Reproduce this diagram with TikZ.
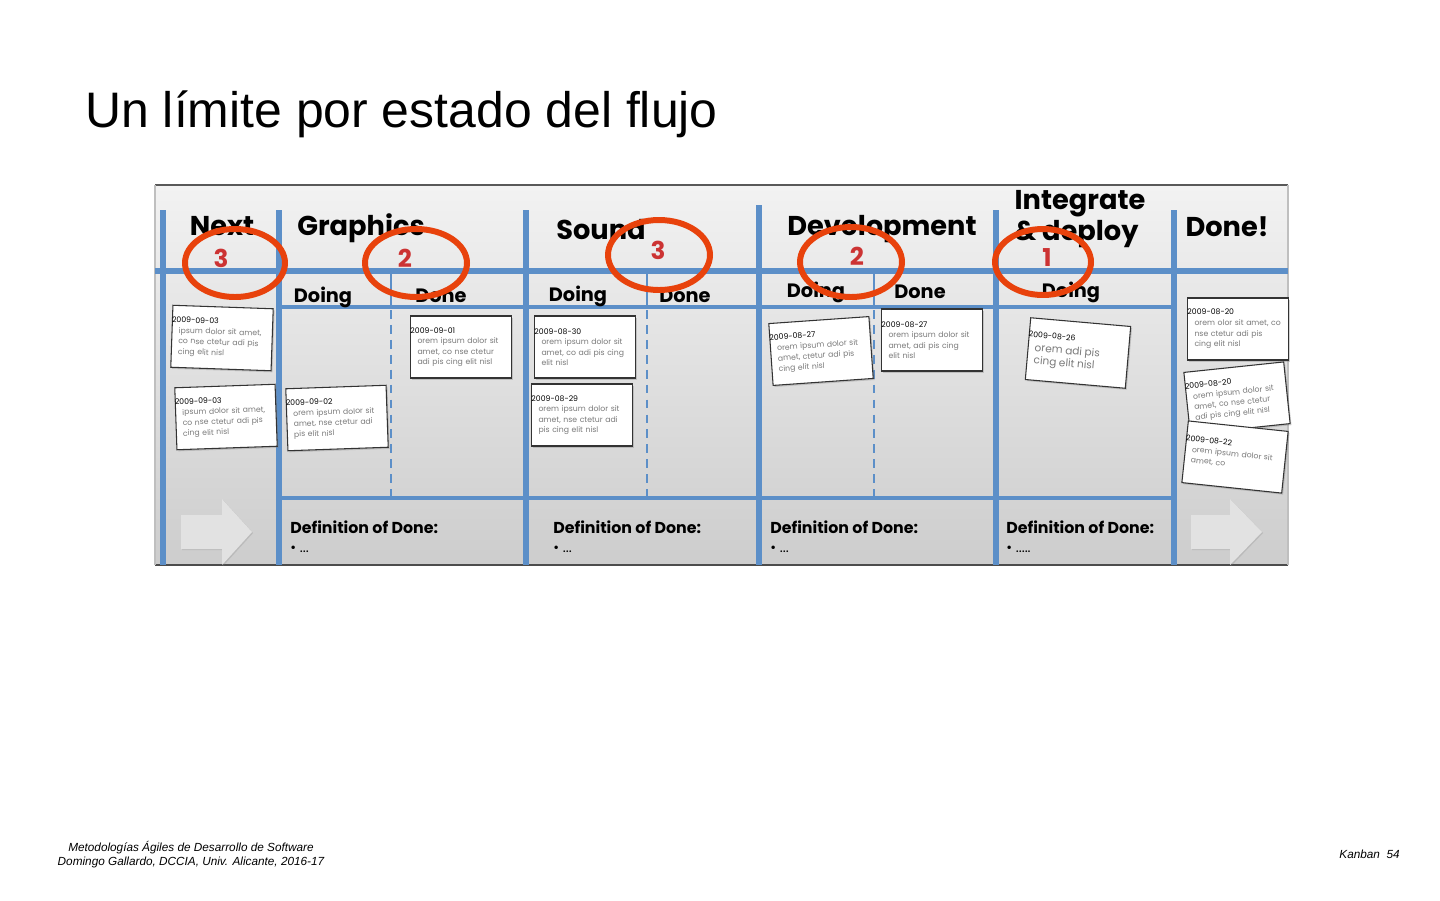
\documentclass[tikz,border=0pt]{standalone}
\usepackage{fontspec}
\setmainfont{Liberation Sans}
\newfontfamily\handfont{Poppins}
\usetikzlibrary{shadows}
\definecolor{boardblue}{HTML}{5C8FC8}
\definecolor{ringorange}{HTML}{E8420C}
\definecolor{limitred}{HTML}{CC3333}
\definecolor{cardgray}{HTML}{7A7A7A}
\definecolor{arrowgray}{HTML}{E2E2E2}
\definecolor{boardtop}{HTML}{F2F2F2}
\definecolor{boardbottom}{HTML}{CDCDCD}
\tikzset{
  lane/.style={draw=boardblue, line width=3.4pt},
  sublane/.style={draw=boardblue, line width=2.4pt},
  split/.style={draw=boardblue, line width=1.6pt, dash pattern=on 5pt off 3.5pt},
  colhead/.style={font=\handfont\bfseries\fontsize{15.5}{16}\selectfont, inner sep=0pt},
  subhead/.style={font=\handfont\bfseries\fontsize{11}{12}\selectfont, inner sep=0pt},
  limitnum/.style={font=\handfont\bfseries\fontsize{14}{14}\selectfont, text=limitred, inner sep=0pt},
  ring/.style={draw=ringorange, line width=3.4pt},
  card/.style={draw=black!80, line width=.6pt, fill=white,
    drop shadow={shadow xshift=.8pt, shadow yshift=-.9pt, opacity=.35},
    minimum width=2cm, minimum height=1.24cm, text width=1.74cm, inner xsep=3.8pt,
    align=left, font=\handfont\fontsize{4.4}{6}\selectfont},
  dod/.style={font=\handfont\bfseries\fontsize{9}{10}\selectfont, anchor=west, inner sep=0pt},
  dots/.style={font=\handfont\fontsize{8}{9}\selectfont, anchor=west, inner sep=0pt},
  flow/.style={fill=arrowgray, drop shadow={shadow xshift=.6pt, shadow yshift=-.6pt, opacity=.25}},
}
\begin{document}
\begin{tikzpicture}[x=0.02cm, y=-0.02cm]
  \useasboundingbox (0,0) rectangle (1440,900);
  \node[anchor=base west, font=\fontsize{28.4}{30}\selectfont, inner sep=0pt] (title) at (85,127) {Un límite por estado del flujo};

  % board
  \shade[top color=boardtop, bottom color=boardbottom] (155,185) rectangle (1288,565);
  \draw[black!65, line width=.8pt] (155,185) -- (1288,185);
  \draw[black!70, line width=1pt] (155,565) -- (1288,565);
  \draw[black!25, line width=.6pt] (155,185) -- (155,565) (1288,185) -- (1288,565);

  % lanes
  \draw[lane] (155,271) -- (1288,271);
  \draw[sublane] (278,307) -- (1175,307);
  \draw[sublane] (278,498) -- (1175,498);
  \foreach \x/\y in {163/210,279/210,526/210,759/205,996/210,1174/210}
    \draw[lane] (\x,\y) -- (\x,565);
  \foreach \x in {391,647,874} {
    \draw[boardblue, line width=1.6pt] (\x,271) -- (\x,307);
    \draw[split] (\x,310) -- (\x,498);
  }

  % flow arrows
  \fill[flow] (181,515) -- (222,515) -- (222,499) -- (252,532) -- (222,565) -- (222,549) -- (181,549) -- cycle;
  \fill[flow] (1191,515) -- (1230,515) -- (1230,499) -- (1262,532) -- (1230,565) -- (1230,549) -- (1191,549) -- cycle;

  % column titles
  \node[colhead] (next) at (222,226) {Next};
  \node[colhead] (graphics) at (361,228) {Graphics};
  \node[colhead] (sound) at (601,230) {Sound};
  \node[colhead] (devel) at (882,229) {Development};
  \node[colhead, align=left] (integ) at (1080,219) {Integrate\\[2pt]\& deploy};
  \node[colhead] (doneall) at (1227,227) {Done!};

  \node[subhead] (gdoing) at (323,297) {Doing};
  \node[subhead] (gdone) at (441,296) {Done};
  \node[subhead] (sdoing) at (578,296) {Doing};
  \node[subhead] (sdone) at (685,296) {Done};
  \node[subhead] (ddoing) at (816,292) {Doing};
  \node[subhead] (ddone) at (920,292) {Done};
  \node[subhead] (idoing) at (1071,292) {Doing};

  % cards
  \node[card, rotate=-2] (c1) at (222,338) {\hspace*{-4pt}2009-09-03\\ \color{cardgray}ipsum dolor sit amet,\\ co nse ctetur adi pis\\ cing elit nisl};
  \node[card, rotate=2] (c2) at (226,417) {\hspace*{-4pt}2009-09-03\\ \color{cardgray}ipsum dolor sit amet,\\ co nse ctetur adi pis\\ cing elit nisl};
  \node[card, rotate=2] (c3) at (337,418) {\hspace*{-4pt}2009-09-02\\ \color{cardgray}orem ipsum dolor sit\\ amet, nse ctetur adi\\ pis elit nisl};
  \node[card] (c4) at (461,347) {\hspace*{-4pt}2009-09-01\\ \color{cardgray}orem ipsum dolor sit\\ amet, co nse ctetur\\ adi pis cing elit nisl};
  \node[card] (c5) at (585,347) {\hspace*{-4pt}2009-08-30\\ \color{cardgray}orem ipsum dolor sit\\ amet, co adi pis cing\\ elit nisl};
  \node[card] (c6) at (582,415) {\hspace*{-4pt}2009-08-29\\ \color{cardgray}orem ipsum dolor sit\\ amet, nse ctetur adi\\ pis cing elit nisl};
  \node[card, rotate=4] (c7) at (821,351) {\hspace*{-4pt}2009-08-27\\ \color{cardgray}orem ipsum dolor sit\\ amet, ctetur adi pis\\ cing elit nisl};
  \node[card] (c8) at (932,340) {\hspace*{-4pt}2009-08-27\\ \color{cardgray}orem ipsum dolor sit\\ amet, adi pis cing\\ elit nisl};
  \node[card, rotate=-5] (c9) at (1078,353) {\hspace*{-4pt}2009-08-26\\ \color{cardgray}\fontsize{6}{8}\selectfont orem adi pis\\ cing elit nisl};
  \node[card] (c10) at (1238,329) {\hspace*{-4pt}2009-08-20\\ \color{cardgray}\mbox{orem olor sit amet, co}\\ nse ctetur adi pis\\ cing elit nisl};
  \node[card, rotate=6] (c11) at (1237,398) {\hspace*{-4pt}2009-08-20\\ \color{cardgray}orem ipsum dolor sit\\ amet, co nse ctetur\\ adi pis cing elit nisl};
  \node[card, rotate=-6, text depth=5.5mm] (c12) at (1235,457) {\hspace*{-4pt}2009-08-22\\ \color{cardgray}orem ipsum dolor sit\\ amet, co};

  % definition of done
  \node[dod] (gdod) at (290,527) {Definition of Done:};
  \node[dod] (sdod) at (553,527) {Definition of Done:};
  \node[dod] (ddod) at (770,527) {Definition of Done:};
  \node[dod] (idod) at (1006,527) {Definition of Done:};
  \node[dots] (gdots) at (290,549) {\textbullet\ ...};
  \node[dots] (sdots) at (553,549) {\textbullet\ ...};
  \node[dots] (ddots) at (770,549) {\textbullet\ ...};
  \node[dots] (idots) at (1006,549) {\textbullet\ .....};

  % WIP limits
  \node[limitnum] (lnext) at (221,258) {3};
  \node[limitnum] (lgraph) at (405,258) {2};
  \node[limitnum] (lsound) at (658,250) {3};
  \node[limitnum] (ldevel) at (857,256) {2};
  \node[limitnum] (linteg) at (1047,258) {1};
  \draw[ring] (235,263) ellipse [x radius=50, y radius=34];
  \draw[ring] (416,263) ellipse [x radius=51, y radius=34];
  \draw[ring] (659,255) ellipse [x radius=51, y radius=35];
  \draw[ring] (851,262) ellipse [x radius=51, y radius=35];
  \draw[ring] (1043,262) ellipse [x radius=48, y radius=33];

  % footer
  \node[font=\itshape\fontsize{6.7}{8}\selectfont, align=center] (credits) at (191,855) {Metodologías Ágiles de Desarrollo de Software\\Domingo Gallardo, DCCIA, Univ. Alicante, 2016-17};
  \node[font=\itshape\fontsize{6.7}{8}\selectfont, anchor=east, inner sep=0pt] (pageno) at (1400,854) {Kanban\ \ 54};
\end{tikzpicture}
\end{document}
